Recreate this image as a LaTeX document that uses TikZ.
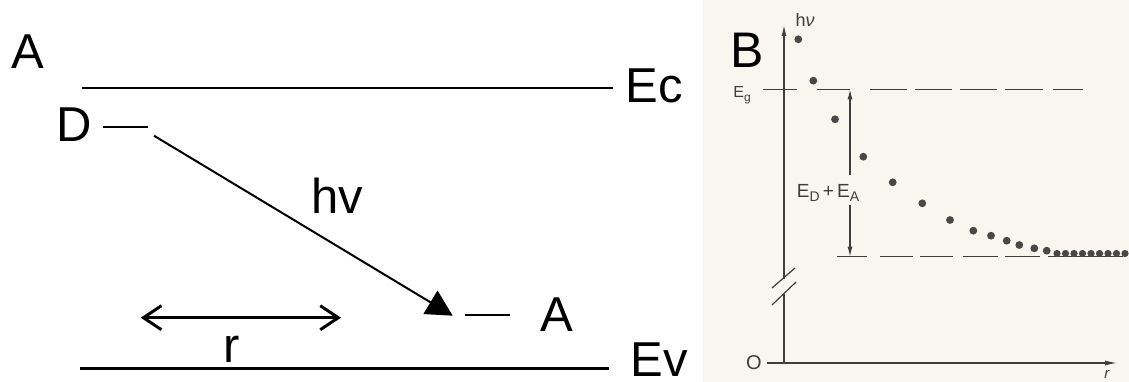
\documentclass[tikz,border=0pt]{standalone}
\usepackage{fontspec}
\setmainfont{Liberation Sans}
\usetikzlibrary{arrows.meta}
\definecolor{paper}{RGB}{248,246,238}
\definecolor{ink}{RGB}{62,62,62}
\definecolor{dotc}{RGB}{72,72,72}
\tikzset{
  lbl/.style={inner sep=0pt, font=\fontsize{49}{49}\selectfont},
  level/.style={line width=2.2pt},
  small/.style={inner sep=0pt, text=ink, font=\fontsize{15}{15}\selectfont},
  axisline/.style={draw=ink, line width=1.2pt},
  dashline/.style={draw=ink, line width=1.5pt},
  dotmark/.style={fill=dotc},
}
\begin{document}
\begin{tikzpicture}[x=1pt,y=-1pt]
\useasboundingbox (0,0) rectangle (1129,382);
\fill[white] (0,0) rectangle (703,382);
\fill[paper] (703,0) rectangle (1129,382);

% ---------- panel A ----------
\node[lbl] (Atl) at (27.5,51.5) {A};
\coordinate (EcL) at (82,87.7);
\coordinate (EcR) at (613,87.7);
\draw[level] (EcL) -- (EcR);
\node[lbl] (Ec) at (654,86) {Ec};

\node[lbl] (D) at (74,124.5) {D};
\coordinate (DL) at (103,127);
\coordinate (DR) at (148,127);
\draw[level] (DL) -- (DR);

\coordinate (phS) at (154,135.7);
\coordinate (phE) at (452.7,315.7);
\draw[line width=2pt,-{Triangle[length=26pt,width=27pt]}] (phS) -- (phE);
\node[lbl] (hv) at (337,196) {hv};

\coordinate (AL) at (465,314.7);
\coordinate (AR) at (510,314.7);
\draw[level] (AL) -- (AR);
\node[lbl] (Ar) at (557,315) {A};

\coordinate (rL) at (140.7,317.7);
\coordinate (rR) at (341,317.7);
\draw[line width=3pt,{Straight Barb[length=18pt,width=24pt]}-{Straight Barb[length=18pt,width=24pt]}] (rL) -- (rR);
\node[lbl] (r) at (231.5,349.5) {r};

\coordinate (EvL) at (80,368.5);
\coordinate (EvR) at (609,368.5);
\draw[level] (EvL) -- (EvR);
\node[lbl] (Ev) at (659,359.5) {Ev};

% ---------- panel B ----------
\node[inner sep=0pt, font=\fontsize{50}{50}\selectfont] (B) at (747,50) {B};

% axes
\coordinate (O) at (784,363);
\coordinate (ytop) at (784,25);
\coordinate (brkU) at (784,279);
\coordinate (brkL) at (784,294);
\coordinate (xend) at (1117,363);
\coordinate (xst) at (767,363);
\draw[axisline] (O) -- (brkL);
\draw[axisline,-{Latex[length=11pt,width=5pt]}] (brkU) -- (ytop);
\draw[axisline,-{Latex[length=12pt,width=5pt]}] (xst) -- (xend);
\draw[ink,line width=1.2pt] (772,288) -- (795,268);
\draw[ink,line width=1.2pt] (772,305) -- (796,282);
\node[small, font=\fontsize{20}{20}\selectfont] (Olbl) at (754,363) {O};
\node[small] (rlbl) at (1107,374) {\textit{r}};
\node[small, font=\fontsize{18}{18}\selectfont] (hnu) at (805,20) {h\textit{ν}};
\node[small, font=\fontsize{16}{16}\selectfont] (Eg) at (742,95) {E\raisebox{-0.45ex}{\fontsize{12}{12}\selectfont g}};

% dashed levels
\coordinate (EgL) at (763,89.3);
\coordinate (EgR) at (1083,89.3);
\draw[dashline] (763,89.3) -- (797,89.3) (817,89.3) -- (850,89.3)
  (870,89.3) -- (907,89.3) (915,89.3) -- (952,89.3) (960,89.3) -- (997,89.3)
  (1005,89.3) -- (1043,89.3) (1053,89.3) -- (EgR);
\coordinate (EdL) at (837,256.7);
\coordinate (EdR) at (1123,256.7);
\draw[dashline] (EdL) -- (867,256.7) (880,256.7) -- (913,256.7)
  (920,256.7) -- (953,256.7) (963,256.7) -- (998,256.7)
  (1005,256.7) -- (1040,256.7) (1048,256.7) -- (EdR);

% E_D + E_A arrow
\node[small, font=\fontsize{19}{19}\selectfont] (EDA) at (828,193)
  {E\raisebox{-0.4ex}{\fontsize{14}{14}\selectfont D}\,+\,E\raisebox{-0.4ex}{\fontsize{14}{14}\selectfont A}};
\coordinate (vt) at (850,89.3);
\coordinate (vb) at (850,256.7);
\coordinate (vgt) at (850,175);
\coordinate (vgb) at (850,205);
\draw[axisline,-{Latex[length=10pt,width=5pt]}] (vgt) -- (vt);
\draw[axisline,-{Latex[length=10pt,width=5pt]}] (vgb) -- (vb);

% data points
\foreach \px/\py in {798.3/39.3, 813.3/80.7, 835/119.3, 863.3/156.7, 892.7/182.3,
  922.3/203.3, 950/220, 973.3/230.7, 991/235.7, 1006.7/240.7, 1019.3/245,
  1034.3/248.3, 1046.7/250.7}
  \fill[dotmark] (\px,\py) circle (3.9pt);
\foreach \i in {0,...,8}
  \fill[dotmark] (1057+8.5*\i,253.5) circle (3.6pt);
\end{tikzpicture}
\end{document}
